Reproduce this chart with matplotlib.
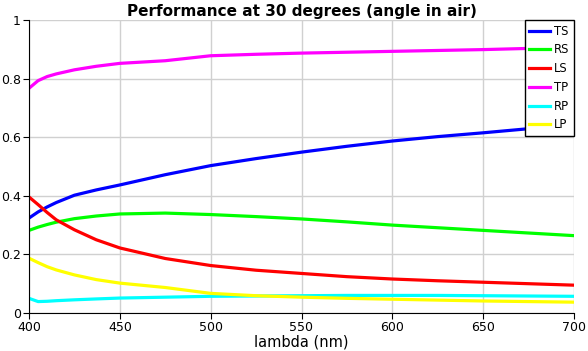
import matplotlib
matplotlib.use("Agg")
import matplotlib.pyplot as plt
import numpy as np

# wavelengths (nm)
lam = [400, 405, 410, 415, 425, 437, 450, 475, 500, 525, 550, 575, 600, 625, 650, 675, 700]

ts = [0.324, 0.345, 0.362, 0.377, 0.402, 0.420, 0.437, 0.472, 0.503, 0.527, 0.549, 0.569, 0.587, 0.602, 0.615, 0.629, 0.640]
rs = [0.282, 0.293, 0.302, 0.310, 0.322, 0.331, 0.338, 0.341, 0.336, 0.329, 0.321, 0.311, 0.300, 0.291, 0.282, 0.273, 0.264]
ls = [0.396, 0.370, 0.343, 0.318, 0.284, 0.250, 0.222, 0.186, 0.162, 0.146, 0.135, 0.124, 0.116, 0.110, 0.105, 0.100, 0.095]
tp = [0.767, 0.793, 0.807, 0.816, 0.830, 0.842, 0.852, 0.861, 0.878, 0.883, 0.887, 0.890, 0.893, 0.896, 0.899, 0.903, 0.905]
rp = [0.050, 0.039, 0.040, 0.042, 0.045, 0.048, 0.051, 0.054, 0.057, 0.058, 0.059, 0.060, 0.060, 0.060, 0.059, 0.058, 0.057]
lp = [0.187, 0.172, 0.158, 0.147, 0.130, 0.114, 0.102, 0.087, 0.067, 0.059, 0.054, 0.050, 0.047, 0.044, 0.041, 0.039, 0.037]

series = [("TS", ts, "#0000ff"), ("RS", rs, "#00ff00"), ("LS", ls, "#ff0000"),
          ("TP", tp, "#ff00ff"), ("RP", rp, "#00ffff"), ("LP", lp, "#ffff00")]

fig = plt.figure(figsize=(5.88, 3.51), dpi=100)
ax = fig.add_axes([29 / 588, 1 - 313 / 351, (574 - 29) / 588, (313 - 20) / 351])

for name, vals, col in series:
    ax.plot(lam, vals, color=col, lw=2.3, label=name)

ax.set_xlim(400, 700)
ax.set_ylim(0, 1)
ax.set_xticks(np.arange(400, 701, 50))
ax.set_yticks([0, 0.2, 0.4, 0.6, 0.8, 1])
ax.set_yticklabels(["0", "0.2", "0.4", "0.6", "0.8", "1"])
ax.grid(True, color="#d0d0d0", lw=1)
ax.set_axisbelow(True)
for s in ["top", "right"]:
    ax.spines[s].set_visible(False)
ax.tick_params(labelsize=9, length=4, pad=2, color="black")
ax.set_xlabel("lambda (nm)", fontsize=10.5, labelpad=0)
ax.set_title("Performance at 30 degrees (angle in air)", fontsize=11, fontweight="bold", pad=3)

leg = ax.legend(loc="upper right", borderaxespad=0, fancybox=False, fontsize=8.3,
                handlelength=1.8, labelspacing=0.5, borderpad=0.4, handletextpad=0.35)
leg.get_frame().set_edgecolor("black")
leg.get_frame().set_alpha(1)

fig.savefig("out.png", dpi=100)
